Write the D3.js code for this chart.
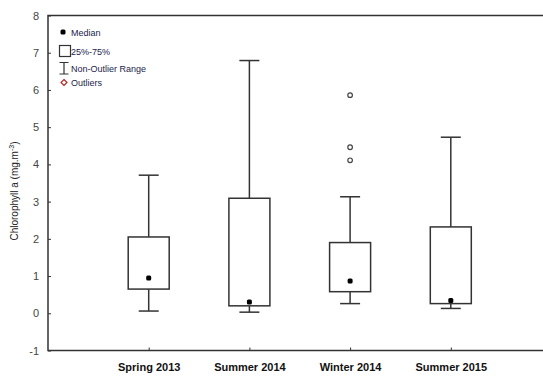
<!DOCTYPE html>
<html>
<head>
<meta charset="utf-8">
<script src="https://cdn.jsdelivr.net/npm/d3@7"></script>
<style>
  html, body { margin: 0; padding: 0; background: #fff; }
  svg { display: block; }
</style>
</head>
<body>
<svg id="chart" width="543" height="377"></svg>
<script>
// Chlorophyll a by sampling season
const seasons = ["Spring 2013", "Summer 2014", "Winter 2014", "Summer 2015"];
const whiskerLow  = [0.06, 0.03, 0.26, 0.13];
const q1          = [0.65, 0.20, 0.58, 0.26];
const median      = [0.95, 0.30, 0.87, 0.34];
const q3          = [2.05, 3.09, 1.90, 2.32];
const whiskerHigh = [3.71, 6.79, 3.13, 4.73];
const outliers    = [[], [], [4.11, 4.46, 5.86], []];
const yTicks = [-1, 0, 1, 2, 3, 4, 5, 6, 7, 8];

const svg = d3.select("#chart");
const plotLeft = 48, plotTop = 15.5, plotBottom = 350.5, plotRight = 551.5;
const ink = "#333";

const x = d3.scalePoint().domain(seasons).range([plotLeft, plotRight]).padding(1);
const y = d3.scaleLinear().domain([-1, 8]).range([plotBottom, plotTop]);

// plot frame (right edge runs off the page)
svg.append("rect")
  .attr("x", plotLeft).attr("y", plotTop)
  .attr("width", plotRight - plotLeft + 20).attr("height", plotBottom - plotTop)
  .attr("fill", "none").attr("stroke", ink).attr("stroke-width", 1.5);

// y axis with inward ticks
const yAxis = svg.append("g")
  .attr("transform", `translate(${plotLeft},0)`)
  .call(d3.axisLeft(y).tickValues(yTicks).tickSize(-3).tickPadding(9).tickFormat(d => String(d)));
yAxis.select(".domain").remove();
yAxis.selectAll("line").attr("stroke", ink);
yAxis.selectAll("text")
  .attr("font-family", "Liberation Sans, Arial, sans-serif")
  .attr("font-size", 11).attr("fill", "#444");

// x axis with inward ticks
const xAxis = svg.append("g")
  .attr("transform", `translate(0,${plotBottom})`)
  .call(d3.axisBottom(x).tickSize(-3).tickPadding(13));
xAxis.select(".domain").remove();
xAxis.selectAll("line").attr("stroke", ink);
xAxis.selectAll("text")
  .attr("font-family", "Liberation Sans, Arial, sans-serif")
  .attr("font-size", 11).attr("font-weight", "bold").attr("fill", "#111");

// y axis title
const yTitle = svg.append("text")
  .attr("transform", `translate(18,${(plotTop + plotBottom) / 2 + 8}) rotate(-90)`)
  .attr("text-anchor", "middle")
  .attr("font-family", "Liberation Sans, Arial, sans-serif")
  .attr("font-size", 10).attr("fill", "#222");
yTitle.append("tspan").text("Chlorophyll a (mg.m");
yTitle.append("tspan").attr("dy", -4).attr("font-size", 7).text("-3");
yTitle.append("tspan").attr("dy", 4).text(")");

// boxes
const boxW = 41, capW = 20;
const g = svg.append("g").attr("stroke", ink).attr("stroke-width", 1.5).attr("fill", "none");
seasons.forEach((s, i) => {
  const cx = x(s);
  g.append("line").attr("x1", cx).attr("x2", cx).attr("y1", y(whiskerHigh[i])).attr("y2", y(q3[i]));
  g.append("line").attr("x1", cx).attr("x2", cx).attr("y1", y(q1[i])).attr("y2", y(whiskerLow[i]));
  g.append("line").attr("x1", cx - capW / 2).attr("x2", cx + capW / 2).attr("y1", y(whiskerHigh[i])).attr("y2", y(whiskerHigh[i]));
  g.append("line").attr("x1", cx - capW / 2).attr("x2", cx + capW / 2).attr("y1", y(whiskerLow[i])).attr("y2", y(whiskerLow[i]));
  g.append("rect").attr("x", cx - boxW / 2).attr("y", y(q3[i]))
    .attr("width", boxW).attr("height", y(q1[i]) - y(q3[i]));
  svg.append("rect").attr("x", cx - 2.5).attr("y", y(median[i]) - 2.5)
    .attr("width", 5).attr("height", 5).attr("rx", 1.5).attr("fill", "#000");
  outliers[i].forEach(v => {
    svg.append("circle").attr("cx", cx).attr("cy", y(v)).attr("r", 2.3)
      .attr("fill", "#fff").attr("stroke", "#444").attr("stroke-width", 1.2);
  });
});

// legend
const lg = svg.append("g");
const lgFont = { family: "Liberation Sans, Arial, sans-serif", size: 9, color: "#1c1c4c" };
const lgText = (tx, ty, t) => lg.append("text").attr("x", tx).attr("y", ty).attr("dy", "0.35em")
  .attr("font-family", lgFont.family).attr("font-size", lgFont.size).attr("fill", lgFont.color).text(t);
lg.append("rect").attr("x", 60.5).attr("y", 29.5).attr("width", 5).attr("height", 5).attr("rx", 1.5).attr("fill", "#000");
lgText(71, 32.5, "Median");
lg.append("rect").attr("x", 59.5).attr("y", 45.5).attr("width", 11).attr("height", 11)
  .attr("fill", "none").attr("stroke", ink).attr("stroke-width", 1.2);
lgText(71, 51.5, "25%-75%");
lg.append("path").attr("d", "M59.5,62.5H68.5M64,62.5V74M59.5,74H68.5")
  .attr("fill", "none").attr("stroke", ink).attr("stroke-width", 1.2);
lgText(71, 68.5, "Non-Outlier Range");
lg.append("path").attr("d", "M64,79.5L67,82.5L64,85.5L61,82.5Z")
  .attr("fill", "none").attr("stroke", "#b02020").attr("stroke-width", 1.1);
lgText(71, 83, "Outliers");
</script>
</body>
</html>
